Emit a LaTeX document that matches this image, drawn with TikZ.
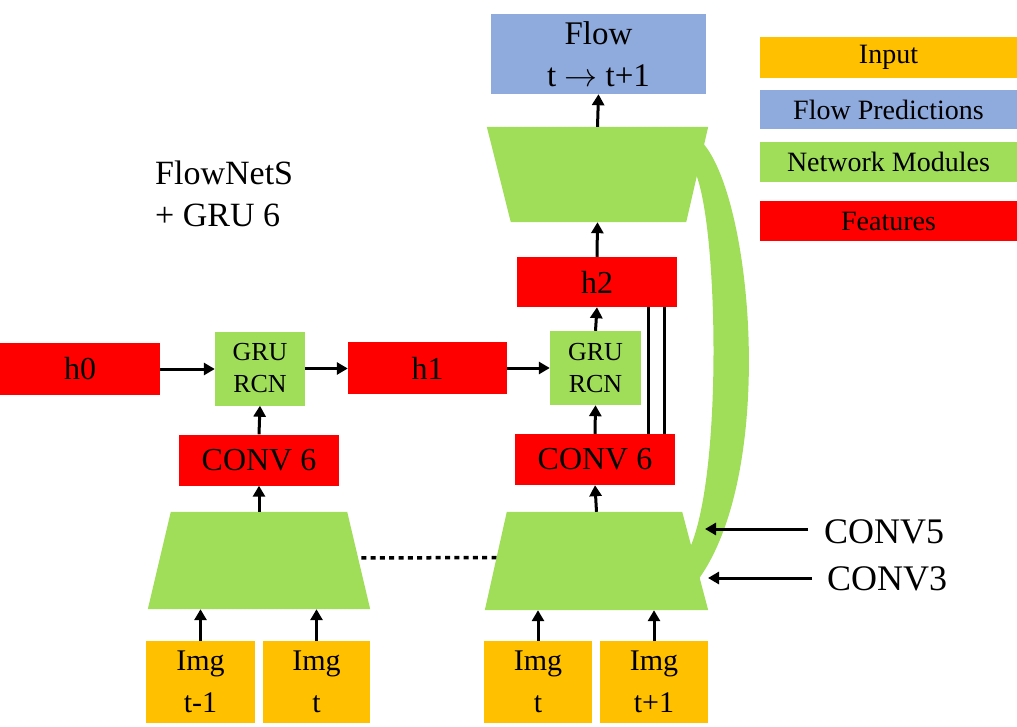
\RequirePackage{fix-cm}
\documentclass[tikz,border=0pt]{standalone}
\usepackage{fontspec}
\setmainfont{Liberation Serif}
\usetikzlibrary{arrows.meta}

\definecolor{inputorange}{RGB}{255,192,0}
\definecolor{flowblue}{RGB}{143,170,220}
\definecolor{netgreen}{RGB}{160,222,90}
\definecolor{featred}{RGB}{255,0,0}

\begin{document}
\begin{tikzpicture}[x=1pt,y=-1pt,>={Triangle[length=11pt,width=12pt]},
  box/.style={inner sep=0pt,align=center,font=\fontsize{32}{42}\selectfont},
  feat/.style={box,fill=featred,minimum width=160,minimum height=51},
  gru/.style={box,fill=netgreen,minimum width=91,minimum height=74,font=\fontsize{26}{32}\selectfont},
  img/.style={box,fill=inputorange,minimum width=108,minimum height=82,font=\fontsize{30}{42}\selectfont},
  legend/.style={box,minimum width=257,minimum height=40,font=\fontsize{28}{34}\selectfont},
  enc/.style={inner sep=0pt,minimum width=222,minimum height=97},
  arr/.style={->,line width=3pt}]
  \useasboundingbox (0,0) rectangle (1017,727);

  % skip band between decoder and encoder
  \fill[netgreen] (700,140) .. controls (752,190) and (778,470) .. (698,580)
    -- (688,552) .. controls (724,480) and (718,215) .. (694,170) -- cycle;

  % encoders and decoder (trapezoids)
  \node[enc] (encL) at (259,560.5) {};
  \node[enc,minimum width=223,minimum height=98] (encR) at (596.5,561) {};
  \node[enc,minimum width=221,minimum height=95] (dec) at (597.5,174.5) {};
  \draw[line width=3.5pt,dash pattern=on 5pt off 4.3pt]
    ([yshift=2.5]encL.center) -- ([yshift=3.5]encR.center);
  \fill[netgreen] (encL.south west) -- (encL.south east) -- ([xshift=-23]encL.north east) -- ([xshift=23]encL.north west) -- cycle;
  \fill[netgreen] (encR.south west) -- (encR.south east) -- ([xshift=-26]encR.north east) -- ([xshift=22]encR.north west) -- cycle;
  \fill[netgreen] (dec.north west) -- (dec.north east) -- ([xshift=-22]dec.south east) -- ([xshift=24]dec.south west) -- cycle;

  % inputs
  \node[img,minimum width=109] (imgA) at (200.5,682) {Img\\t-1};
  \node[img,minimum width=107] (imgB) at (316.5,682) {Img\\t};
  \node[img] (imgC) at (538,682) {Img\\t};
  \node[img] (imgD) at (654,682) {Img\\t+1};

  % features and GRU modules
  \node[feat] (convL) at (259,460) {CONV 6};
  \node[feat] (convR) at (595,459.5) {CONV 6};
  \node[gru,minimum width=90] (gruL) at (260,368.5) {GRU\\RCN};
  \node[gru] (gruR) at (595.5,368) {GRU\\RCN};
  \node[feat,minimum height=52] (h0) at (80,369) {h0};
  \node[feat,minimum width=159,minimum height=52] (h1) at (427.5,368) {h1};
  \node[feat,minimum height=50] (h2) at (597,282) {h2};
  \node[box,fill=flowblue,minimum width=215,minimum height=80,font=\fontsize{33}{42}\selectfont] (flow) at (598.5,54) {Flow\\t $\rightarrow$ t+1};

  \node[box,align=left,anchor=north west,font=\fontsize{34}{42}\selectfont] (title) at (155,161) {FlowNetS\\+ GRU 6};

  % legend
  \node[legend,fill=inputorange,minimum height=41] (legIn) at (888.5,57.5) {Input};
  \node[legend,fill=flowblue,minimum height=39] (legFlow) at (888.5,109.5) {Flow Predictions};
  \node[legend,fill=netgreen] (legNet) at (888.5,162) {Network Modules};
  \node[legend,fill=featred] (legFeat) at (888.5,221) {Features};

  % connections
  \foreach \i/\e in {imgA/encL,imgB/encL,imgC/encR,imgD/encR}
    \draw[arr] (\i.north) -- (\i.north |- \e.south);
  \draw[arr] (encL.north) -- (convL.south);
  \draw[arr] (encR.north) -- (convR.south);
  \draw[arr] (convL.north) -- (gruL.south);
  \draw[arr] (convR.north) -- (gruR.south);
  \draw[arr] (h0.east) -- (h0.east -| gruL.west);
  \draw[arr] (gruL.east) -- (gruL.east -| h1.west);
  \draw[arr] (h1.east) -- (h1.east -| gruR.west);
  \draw[arr] (gruR.north) -- (h2.south);
  \draw[arr] (h2.north) -- (dec.south);
  \draw[arr] (dec.north) -- (flow.south);
  \draw[line width=3pt] ([xshift=53]convR.north) -- ([xshift=53]convR.north |- h2.south);
  \draw[line width=3pt] ([xshift=69]convR.north) -- ([xshift=69]convR.north |- h2.south);

  % taps into the encoder
  \coordinate (tap5) at (705,529);
  \coordinate (tap3) at (708,578);
  \node[inner sep=0pt,anchor=base west,font=\fontsize{36}{40}\selectfont] (lab5) at (824,543) {CONV5};
  \node[inner sep=0pt,anchor=base west,font=\fontsize{36}{40}\selectfont] (lab3) at (827,590) {CONV3};
  \draw[arr] ([xshift=-16]lab5.west |- tap5) -- (tap5);
  \draw[arr] ([xshift=-15]lab3.west |- tap3) -- (tap3);
\end{tikzpicture}
\end{document}
